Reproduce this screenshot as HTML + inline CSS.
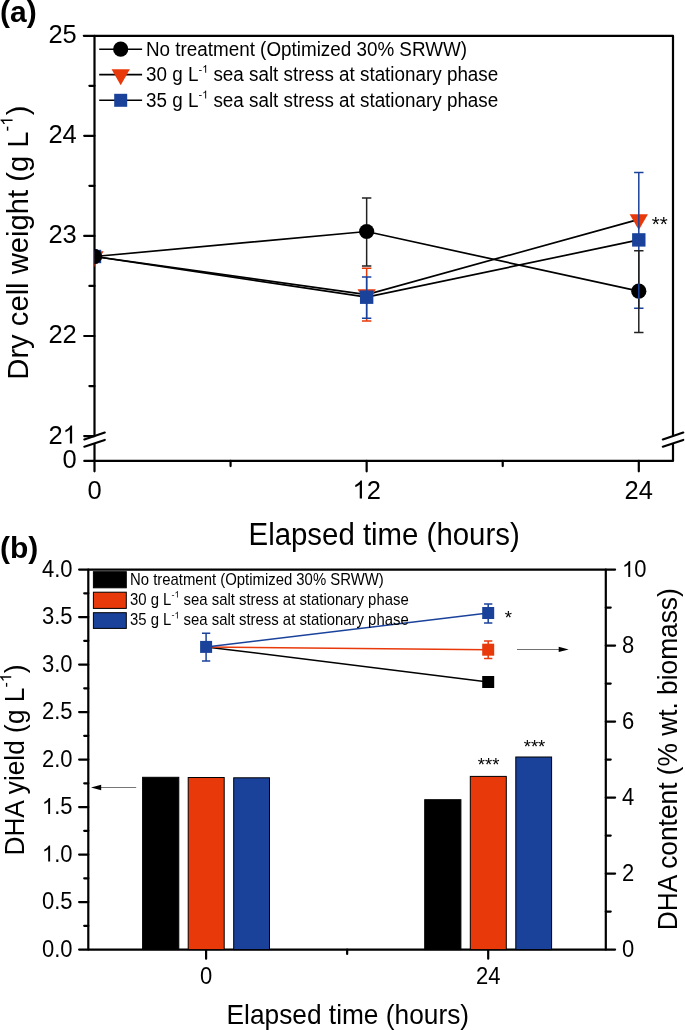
<!DOCTYPE html>
<html><head><meta charset="utf-8"><style>
html,body{margin:0;padding:0;background:#fff;}
svg{display:block;will-change:transform;}
text{font-family:"Liberation Sans",sans-serif;fill:#000;}
.ax{stroke:#000;stroke-width:2.2;fill:none;stroke-linecap:round;stroke-linejoin:round;}
.lbl{font-weight:bold;font-size:30px;}
.tka{font-size:25.5px;}
.tta{font-size:29.4px;}
.lga{font-size:18.85px;}
.supa{font-size:11px;}
.sup{font-size:17px;}
.tkb{font-size:22px;}
.ttb{font-size:26.3px;}
.lgb{font-size:14.9px;}
.supb{font-size:9px;}
.supt{font-size:16px;}
.ast{font-size:18.5px;}
.one{fill-opacity:0;}
</style></head><body>
<svg width="685" height="1030" viewBox="0 0 685 1030">
<text x="0" y="21.5" class="lbl">(a)</text>
<path d="M83.8 35.85H673V434.9M673 444.4V460.95H84.3" class="ax"/>
<path d="M94.5 35.85V434.9M94.5 444.4V471.3" class="ax"/>
<path d="M84.2 135.83H94.5" class="ax"/>
<path d="M84.2 235.91H94.5" class="ax"/>
<path d="M84.2 335.99H94.5" class="ax"/>
<path d="M84.2 436.07H94.5" class="ax"/>
<path d="M89.4 85.79H94.5" class="ax"/>
<path d="M89.4 185.87H94.5" class="ax"/>
<path d="M89.4 285.95H94.5" class="ax"/>
<path d="M89.4 386.03H94.5" class="ax"/>
<path d="M366.65 460.95V471.3" class="ax"/>
<path d="M638.8 460.95V471.3" class="ax"/>
<path d="M230.57 460.95V466.1" class="ax"/>
<path d="M502.72 460.95V466.1" class="ax"/>
<path d="M84.34 439.44L104.76 432.56M84.34 446.69L104.76 439.96" class="ax"/>
<path d="M662.84 439.44L683.26 432.56M662.84 446.69L683.26 439.96" class="ax"/>
<text transform="translate(76.8 43.25) scale(1 1.03)" class="tka" text-anchor="end">25</text>
<text transform="translate(76.8 143.33) scale(1 1.03)" class="tka" text-anchor="end">24</text>
<text transform="translate(76.8 243.41) scale(1 1.03)" class="tka" text-anchor="end">23</text>
<text transform="translate(76.8 343.49) scale(1 1.03)" class="tka" text-anchor="end">22</text>
<text id="t6" transform="translate(76.8 443.57) scale(1 1.03)" class="tka" text-anchor="end">2<tspan class="one">1</tspan></text><g transform="translate(76.8 443.57) scale(1 1.03)"><path d="M763 0H583V1147Q518 1085 412.5 1023Q307 961 223 930V1104Q374 1175 487 1276Q600 1377 647 1472H763Z" transform="translate(-14.18 0.00) scale(0.01245 -0.01192)"/></g>
<text transform="translate(76.8 468.45) scale(1 1.03)" class="tka" text-anchor="end">0</text>
<text transform="translate(94.5 498.5) scale(1 1.03)" class="tka" text-anchor="middle">0</text>
<text id="t9" transform="translate(366.65 498.5) scale(1 1.03)" class="tka" text-anchor="middle"><tspan class="one">1</tspan>2</text><g transform="translate(366.65 498.5) scale(1 1.03)"><path d="M763 0H583V1147Q518 1085 412.5 1023Q307 961 223 930V1104Q374 1175 487 1276Q600 1377 647 1472H763Z" transform="translate(-14.18 0.00) scale(0.01245 -0.01192)"/></g>
<text transform="translate(638.8 498.5) scale(1 1.03)" class="tka" text-anchor="middle">24</text>
<text transform="translate(384.1 544.6) scale(1 1.04)" class="tta" text-anchor="middle">Elapsed time (hours)</text>
<text id="t12" transform="translate(28,242.6) rotate(-90) scale(1 1.03)" class="tta" text-anchor="middle" style="font-size:29.2px">Dry cell weight (g L<tspan class="sup" dy="-15">-<tspan class="one">1</tspan></tspan><tspan dy="15" dx="1.2">)</tspan></text><g transform="translate(28,242.6) rotate(-90) scale(1 1.03)"><path d="M763 0H583V1147Q518 1085 412.5 1023Q307 961 223 930V1104Q374 1175 487 1276Q600 1377 647 1472H763Z" transform="translate(116.72 -15.00) scale(0.00830 -0.00794)"/></g>
<clipPath id="ca"><rect x="94.5" y="35.85" width="578.5" height="425.1"/></clipPath>
<g clip-path="url(#ca)">
<polyline points="94.5,256.5 366.65,231.5 638.8,291.2" fill="none" stroke="#000" stroke-width="1.7"/>
<circle cx="94.5" cy="256.5" r="7.6" fill="#000"/>
<circle cx="366.65" cy="231.5" r="7.6" fill="#000"/>
<circle cx="638.8" cy="291.2" r="7.6" fill="#000"/>
<polyline points="94.5,256.5 366.65,294.6 638.8,219.4" fill="none" stroke="#000" stroke-width="1.7"/>
<path d="M366.65 268.2V320.9M361.95 268.2H371.35M361.95 320.9H371.35" stroke="#E8390B" stroke-width="1.5" fill="none"/>
<path d="M85.35 251.23H103.65L94.5 267.03Z" fill="#E8390B"/>
<path d="M357.5 289.33H375.8L366.65 305.13Z" fill="#E8390B"/>
<path d="M629.65 214.13H647.95L638.8 229.93Z" fill="#E8390B"/>
<polyline points="94.5,256.5 366.65,297.2 638.8,239.9" fill="none" stroke="#000" stroke-width="1.7"/>
<path d="M366.65 277.1V318.2M361.95 277.1H371.35M361.95 318.2H371.35" stroke="#1A429B" stroke-width="1.5" fill="none"/>
<path d="M638.8 172.6V308.3M634.1 172.6H643.5M634.1 308.3H643.5" stroke="#1A429B" stroke-width="1.5" fill="none"/>
<rect x="87.8" y="249.8" width="13.4" height="13.4" fill="#1A429B"/>
<rect x="359.95" y="290.5" width="13.4" height="13.4" fill="#1A429B"/>
<rect x="632.1" y="233.2" width="13.4" height="13.4" fill="#1A429B"/>
<circle cx="94.5" cy="256.5" r="7.6" fill="#000"/>
<path d="M366.65 224V197.9M361.95 197.9H371.35" stroke="#222" stroke-width="1.5" fill="none"/>
<path d="M366.65 239V265.9M361.95 265.9H371.35" stroke="#222" stroke-width="1.5" fill="none"/>
<path d="M638.8 283.7V250.8M634.1 250.8H643.5" stroke="#222" stroke-width="1.5" fill="none"/>
<path d="M638.8 298.7V332.4M634.1 332.4H643.5" stroke="#222" stroke-width="1.5" fill="none"/>
</g>
<text x="651.8" y="231.2" class="ast" style="font-size:20.5px">**</text>
<path d="M99.2 49.2H142.1" stroke="#000" stroke-width="1.6"/>
<path d="M99.2 74.6H142.1" stroke="#000" stroke-width="1.6"/>
<path d="M99.2 100.3H142.1" stroke="#000" stroke-width="1.6"/>
<circle cx="120.7" cy="49.2" r="7.6" fill="#000"/>
<path d="M111.55 69.33H129.85L120.7 85.13Z" fill="#E8390B"/>
<rect x="114.2" y="93.8" width="13" height="13" fill="#1A429B"/>
<text transform="translate(146 55.7) scale(1 1.04)" class="lga">No treatment (Optimized 30% SRWW)</text>
<text id="t15" transform="translate(146 81.1) scale(1 1.04)" class="lga">30 g L<tspan class="supa" dy="-8">-<tspan class="one">1</tspan></tspan><tspan dy="8"> sea salt stress at stationary phase</tspan></text><g transform="translate(146 81.1) scale(1 1.04)"><path d="M763 0H583V1147Q518 1085 412.5 1023Q307 961 223 930V1104Q374 1175 487 1276Q600 1377 647 1472H763Z" transform="translate(56.06 -8.00) scale(0.00537 -0.00514)"/></g>
<text id="t16" transform="translate(146 106.8) scale(1 1.04)" class="lga">35 g L<tspan class="supa" dy="-8">-<tspan class="one">1</tspan></tspan><tspan dy="8"> sea salt stress at stationary phase</tspan></text><g transform="translate(146 106.8) scale(1 1.04)"><path d="M763 0H583V1147Q518 1085 412.5 1023Q307 961 223 930V1104Q374 1175 487 1276Q600 1377 647 1472H763Z" transform="translate(56.06 -8.00) scale(0.00537 -0.00514)"/></g>
<text x="0" y="557.6" class="lbl">(b)</text>
<path d="M79.1 569.6H615.1" class="ax"/>
<path d="M88.3 569.6V949.6H605.8V569.6" class="ax"/>
<path d="M79.1 949.6H88.3M605.8 949.6H615.1" class="ax"/>
<text transform="translate(72.5 956.6) scale(1 1.06)" class="tkb" text-anchor="end">0.0</text>
<path d="M79.1 902.1H88.3" class="ax"/>
<text transform="translate(72.5 909.1) scale(1 1.06)" class="tkb" text-anchor="end">0.5</text>
<path d="M79.1 854.6H88.3" class="ax"/>
<text id="t20" transform="translate(72.5 861.6) scale(1 1.06)" class="tkb" text-anchor="end"><tspan class="one">1</tspan>.0</text><g transform="translate(72.5 861.6) scale(1 1.06)"><path d="M763 0H583V1147Q518 1085 412.5 1023Q307 961 223 930V1104Q374 1175 487 1276Q600 1377 647 1472H763Z" transform="translate(-30.58 0.00) scale(0.01074 -0.01028)"/></g>
<path d="M79.1 807.1H88.3" class="ax"/>
<text id="t21" transform="translate(72.5 814.1) scale(1 1.06)" class="tkb" text-anchor="end"><tspan class="one">1</tspan>.5</text><g transform="translate(72.5 814.1) scale(1 1.06)"><path d="M763 0H583V1147Q518 1085 412.5 1023Q307 961 223 930V1104Q374 1175 487 1276Q600 1377 647 1472H763Z" transform="translate(-30.58 0.00) scale(0.01074 -0.01028)"/></g>
<path d="M79.1 759.6H88.3" class="ax"/>
<text transform="translate(72.5 766.6) scale(1 1.06)" class="tkb" text-anchor="end">2.0</text>
<path d="M79.1 712.1H88.3" class="ax"/>
<text transform="translate(72.5 719.1) scale(1 1.06)" class="tkb" text-anchor="end">2.5</text>
<path d="M79.1 664.6H88.3" class="ax"/>
<text transform="translate(72.5 671.6) scale(1 1.06)" class="tkb" text-anchor="end">3.0</text>
<path d="M79.1 617.1H88.3" class="ax"/>
<text transform="translate(72.5 624.1) scale(1 1.06)" class="tkb" text-anchor="end">3.5</text>
<text transform="translate(72.5 576.6) scale(1 1.06)" class="tkb" text-anchor="end">4.0</text>
<path d="M84.2 925.85H88.3" class="ax"/>
<path d="M84.2 878.35H88.3" class="ax"/>
<path d="M84.2 830.85H88.3" class="ax"/>
<path d="M84.2 783.35H88.3" class="ax"/>
<path d="M84.2 735.85H88.3" class="ax"/>
<path d="M84.2 688.35H88.3" class="ax"/>
<path d="M84.2 640.85H88.3" class="ax"/>
<path d="M84.2 593.35H88.3" class="ax"/>
<text transform="translate(622 957.1) scale(1 1.06)" class="tkb">0</text>
<path d="M605.8 873.6H615.1" class="ax"/>
<text transform="translate(622 881.1) scale(1 1.06)" class="tkb">2</text>
<path d="M605.8 797.6H615.1" class="ax"/>
<text transform="translate(622 805.1) scale(1 1.06)" class="tkb">4</text>
<path d="M605.8 721.6H615.1" class="ax"/>
<text transform="translate(622 729.1) scale(1 1.06)" class="tkb">6</text>
<path d="M605.8 645.6H615.1" class="ax"/>
<text transform="translate(622 653.1) scale(1 1.06)" class="tkb">8</text>
<text id="t32" transform="translate(622 577.1) scale(1 1.06)" class="tkb"><tspan class="one">1</tspan>0</text><g transform="translate(622 577.1) scale(1 1.06)"><path d="M763 0H583V1147Q518 1085 412.5 1023Q307 961 223 930V1104Q374 1175 487 1276Q600 1377 647 1472H763Z" transform="translate(0.00 0.00) scale(0.01074 -0.01028)"/></g>
<path d="M605.8 911.6H610.7" class="ax"/>
<path d="M605.8 835.6H610.7" class="ax"/>
<path d="M605.8 759.6H610.7" class="ax"/>
<path d="M605.8 683.6H610.7" class="ax"/>
<path d="M605.8 607.6H610.7" class="ax"/>
<path d="M206.1 949.6V958.7" class="ax"/>
<text transform="translate(206.1 984) scale(1 1.06)" class="tkb" text-anchor="middle">0</text>
<path d="M488.2 949.6V958.7" class="ax"/>
<text transform="translate(488.2 984) scale(1 1.06)" class="tkb" text-anchor="middle">24</text>
<path d="M347.15 949.6V954" class="ax"/>
<rect x="142.6" y="777.3" width="36.2" height="172.3" fill="#000" stroke="#000" stroke-width="1"/>
<rect x="188.2" y="777.5" width="36" height="172.1" fill="#E8390B" stroke="#000" stroke-width="1"/>
<rect x="233.7" y="777.8" width="35.8" height="171.8" fill="#1A429B" stroke="#000" stroke-width="1"/>
<rect x="424.7" y="799.7" width="36.2" height="149.9" fill="#000" stroke="#000" stroke-width="1"/>
<rect x="470.3" y="776.4" width="36" height="173.2" fill="#E8390B" stroke="#000" stroke-width="1"/>
<rect x="515.8" y="757" width="35.8" height="192.6" fill="#1A429B" stroke="#000" stroke-width="1"/>
<text x="488.6" y="770.9" class="ast" text-anchor="middle">***</text>
<text x="534.5" y="752.7" class="ast" text-anchor="middle">***</text>
<polyline points="206.1,646.9 488.2,682" fill="none" stroke="#000" stroke-width="1.5"/>
<rect x="482.2" y="676" width="12" height="12" fill="#000"/>
<polyline points="206.1,646.9 488.2,649.7" fill="none" stroke="#E8390B" stroke-width="1.5"/>
<path d="M488.2 641.1V658.6M484.05 641.1H492.35M484.05 658.6H492.35" stroke="#E8390B" stroke-width="1.5" fill="none"/>
<rect x="482.2" y="643.7" width="12" height="12" fill="#E8390B"/>
<polyline points="206.1,646.9 488.2,613" fill="none" stroke="#1A429B" stroke-width="1.5"/>
<path d="M488.2 603.9V623M484.05 603.9H492.35M484.05 623H492.35" stroke="#1A429B" stroke-width="1.5" fill="none"/>
<rect x="482.2" y="607" width="12" height="12" fill="#1A429B"/>
<path d="M206.1 633.3V661M201.95 633.3H210.25M201.95 661H210.25" stroke="#1A429B" stroke-width="1.5" fill="none"/>
<rect x="200.1" y="640.9" width="12" height="12" fill="#1A429B"/>
<text x="508.4" y="624.2" class="ast" text-anchor="middle">*</text>
<path d="M136.2 787.5H100" stroke="#767676" stroke-width="1"/>
<path d="M91 787.5L101.2 784.8V790.2Z" fill="#000"/>
<path d="M517 649.5H560" stroke="#707070" stroke-width="1"/>
<path d="M568.7 649.4L558.7 646.7V652.1Z" fill="#000"/>
<rect x="93.4" y="571.7" width="32.9" height="16.1" fill="#000" stroke="#000" stroke-width="1"/>
<rect x="93.4" y="592.2" width="32.9" height="16.2" fill="#E8390B" stroke="#000" stroke-width="1"/>
<rect x="93.4" y="612.7" width="32.9" height="15.7" fill="#1A429B" stroke="#000" stroke-width="1"/>
<text transform="translate(130 584.5) scale(1 1.06)" class="lgb">No treatment (Optimized 30% SRWW)</text>
<text id="t39" transform="translate(130 604.5) scale(1 1.06)" class="lgb">30 g L<tspan class="supb" dy="-6.5">-<tspan class="one">1</tspan></tspan><tspan dy="6.5"> sea salt stress at stationary phase</tspan></text><g transform="translate(130 604.5) scale(1 1.06)"><path d="M763 0H583V1147Q518 1085 412.5 1023Q307 961 223 930V1104Q374 1175 487 1276Q600 1377 647 1472H763Z" transform="translate(44.41 -6.50) scale(0.00439 -0.00421)"/></g>
<text id="t40" transform="translate(130 625.3) scale(1 1.06)" class="lgb">35 g L<tspan class="supb" dy="-6.5">-<tspan class="one">1</tspan></tspan><tspan dy="6.5"> sea salt stress at stationary phase</tspan></text><g transform="translate(130 625.3) scale(1 1.06)"><path d="M763 0H583V1147Q518 1085 412.5 1023Q307 961 223 930V1104Q374 1175 487 1276Q600 1377 647 1472H763Z" transform="translate(44.41 -6.50) scale(0.00439 -0.00421)"/></g>
<text transform="translate(347.8 1024.3) scale(1 1.02)" class="ttb" text-anchor="middle">Elapsed time (hours)</text>
<text id="t42" transform="translate(24.1,760.1) rotate(-90) scale(1 1.03)" class="ttb" text-anchor="middle">DHA yield (g L<tspan class="supt" dy="-12.5">-<tspan class="one">1</tspan></tspan><tspan dy="12.5">)</tspan></text><g transform="translate(24.1,760.1) rotate(-90) scale(1 1.03)"><path d="M763 0H583V1147Q518 1085 412.5 1023Q307 961 223 930V1104Q374 1175 487 1276Q600 1377 647 1472H763Z" transform="translate(77.85 -12.50) scale(0.00781 -0.00748)"/></g>
<text transform="translate(677.1,759.2) rotate(-90) scale(1 1.03)" class="ttb" text-anchor="middle">DHA content (% wt. biomass)</text>
</svg>
</body></html>
